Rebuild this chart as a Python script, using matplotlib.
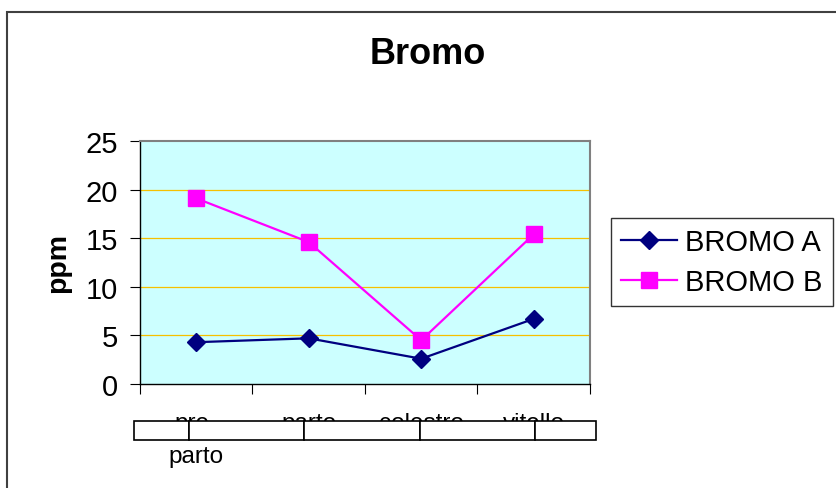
import matplotlib
matplotlib.use("Agg")
import matplotlib.pyplot as plt
from matplotlib.patches import Rectangle

plt.rcParams['font.family'] = ['Liberation Sans', 'DejaVu Sans']

# dati
fasi = ["pre-\nparto", "parto", "colestro", "vitello"]
bromo_a = [4.3, 4.7, 2.6, 6.7]
bromo_b = [19.1, 14.6, 4.5, 15.4]
y_ticks = [0, 5, 10, 15, 20, 25]

W, H = 837, 489
fig = plt.figure(figsize=(W / 100, H / 100), dpi=100)

# cornice esterna
fig.patches.append(Rectangle((7 / W, -0.1), 1.2, 1 - 13 / H + 0.1, transform=fig.transFigure,
                             fill=False, edgecolor='#404040', linewidth=1.5))

ax = fig.add_axes([140 / W, 1 - 385 / H, 450 / W, 243 / H])
ax.set_facecolor('#CCFFFF')

x = range(len(fasi))
ax.plot(x, bromo_a, color='#000080', marker='D', markersize=9.5, linewidth=1.6, label='BROMO A')
ax.plot(x, bromo_b, color='#FF00FF', marker='s', markersize=11, linewidth=1.6, label='BROMO B')

ax.set_xlim(-0.5, len(fasi) - 0.5)
ax.set_ylim(0, 25)
ax.set_yticks(y_ticks)
ax.set_yticklabels([str(v) for v in y_ticks], fontsize=21)
ax.set_xticks([i - 0.5 for i in range(len(fasi) + 1)])
ax.set_xticklabels([])
ax.set_xticks(list(x), minor=True)
ax.set_xticklabels(fasi, minor=True, fontsize=17.5, linespacing=1.65)
ax.tick_params(axis='x', which='minor', length=0, pad=20)
ax.tick_params(axis='x', which='major', length=7, direction='out')
ax.tick_params(axis='y', length=7, direction='out', pad=9)

for v in y_ticks[1:-1]:
    ax.axhline(v, color='#F5C000', linewidth=0.9, zorder=1)

for s in ['top', 'right']:
    ax.spines[s].set_color('#808080')
    ax.spines[s].set_linewidth(1.5)
for s in ['left', 'bottom']:
    ax.spines[s].set_color('black')
    ax.spines[s].set_linewidth(1.0)

fig.text(58 / W, 1 - 263 / H, 'ppm', fontsize=20.5, fontweight='bold', rotation=90,
         ha='center', va='center')
fig.text(428 / W, 1 - 55 / H, 'Bromo', fontsize=26, fontweight='bold', ha='center', va='center')

# riga di caselle sotto l'asse
y0 = 1 - 441 / H
hh = 19 / H
edges = [134, 189, 304, 420, 535, 596]
for a, b in zip(edges[:-1], edges[1:]):
    fig.patches.append(Rectangle((a / W, y0), (b - a) / W, hh, transform=fig.transFigure,
                                 facecolor='white', edgecolor='black', linewidth=1.2, zorder=5))

leg = ax.legend(loc='center left', bbox_to_anchor=(611 / W, 1 - 263 / H),
                bbox_transform=fig.transFigure, fontsize=21, frameon=True, fancybox=False,
                handlelength=1.9, handletextpad=0.3, borderpad=0.35, labelspacing=0.4,
                borderaxespad=0)
leg.get_frame().set_edgecolor('black')
leg.get_frame().set_linewidth(1.0)

fig.savefig('out.png', dpi=100)
